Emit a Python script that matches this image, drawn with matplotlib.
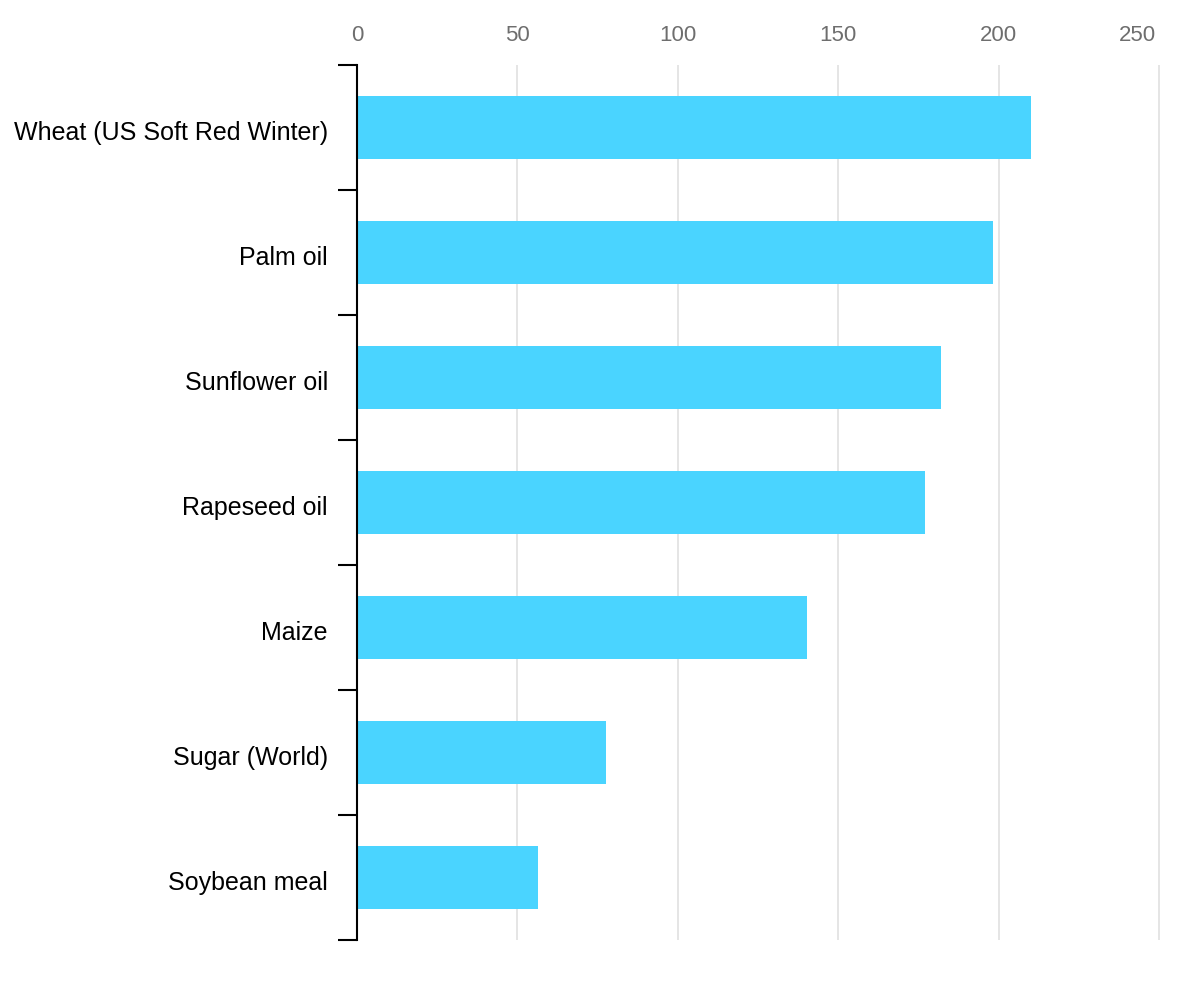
import numpy as np
import matplotlib.pyplot as plt
import matplotlib.transforms as mtransforms

# commodity price index values
categories = ["Wheat (US Soft Red Winter)", "Palm oil", "Sunflower oil",
              "Rapeseed oil", "Maize", "Sugar (World)", "Soybean meal"]
values = [210.1, 198.3, 182.1, 177.1, 140.4, 77.5, 56.4]
x_ticks = [0, 50, 100, 150, 200, 250]

plt.rcParams['font.family'] = ['Liberation Sans', 'DejaVu Sans']

fig = plt.figure(figsize=(12, 10), dpi=100)
ax = fig.add_axes([0.2975, 0.06, 0.675, 0.875])

y = np.arange(len(categories))
ax.barh(y, values, height=0.5, color='#4AD4FF', zorder=2)

ax.set_ylim(len(categories) - 0.5, -0.5)
ax.set_xlim(0, 252.5)

# x axis on top, grey labels, no tick marks
ax.xaxis.tick_top()
ax.set_xticks(x_ticks)
ax.set_xticklabels([str(t) for t in x_ticks])
ax.tick_params(axis='x', length=0, labelsize=16, labelcolor='#6e6e6e', pad=14)
ax.grid(axis='x', color='#e0e0e0', linewidth=1.2, zorder=0)
# last label is kept inside the plot, ending at its grid line
last = ax.get_xticklabels()[-1]
last.set_ha('right')
last.set_transform(last.get_transform() + mtransforms.ScaledTranslation(-0.03, 0, fig.dpi_scale_trans))

# category labels with boundary ticks on the left spine
ax.set_yticks(y)
ax.set_yticklabels(categories)
ax.tick_params(axis='y', which='major', length=0, labelsize=18, pad=21)
ax.set_yticks(np.arange(len(categories) + 1) - 0.5, minor=True)
ax.tick_params(axis='y', which='minor', length=14, width=1.5, color='black')
shift = mtransforms.ScaledTranslation(0, -0.03, fig.dpi_scale_trans)
for lbl in ax.get_yticklabels():
    lbl.set_transform(lbl.get_transform() + shift)

for side in ['top', 'right', 'bottom']:
    ax.spines[side].set_visible(False)
ax.spines['left'].set_linewidth(1.5)

fig.savefig('out.png', dpi=100)
